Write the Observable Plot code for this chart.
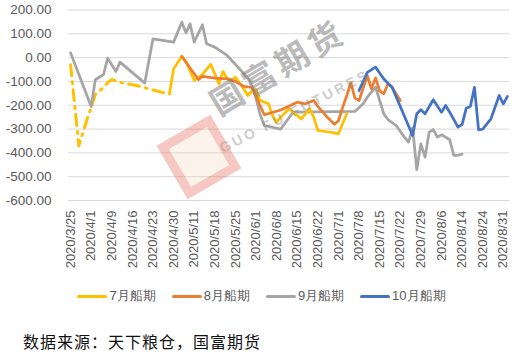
<!DOCTYPE html>
<html><head><meta charset="utf-8">
<script src="https://cdn.jsdelivr.net/npm/d3@7"></script>
<script src="https://cdn.jsdelivr.net/npm/@observablehq/plot@0.6"></script>
<style>
body{margin:0;background:#fff;width:515px;height:352px;overflow:hidden;position:relative;font-family:"Liberation Sans",Arial,sans-serif;}
#chart{height:280px;}
#legend{display:flex;justify-content:center;align-items:center;margin-top:8px;height:16px;font-size:13px;color:#595959;padding-left:8px;}
#legend .item{display:flex;align-items:center;margin:0 8px;}
#legend .sw{width:30px;height:3px;border-radius:2px;margin-right:2px;}
#caption{position:absolute;left:23px;top:331px;font-family:"Noto Sans CJK SC",sans-serif;font-size:16px;letter-spacing:1px;color:#111;line-height:20px;}
.wm{position:absolute;pointer-events:none;white-space:nowrap;}
</style></head><body>
<div id="chart"></div>
<div id="legend"></div>
<div id="caption">数据来源：天下粮仓，国富期货</div>
<div class="wm" style="left:222px;top:82px;font-family:'Noto Sans CJK SC';font-weight:bold;font-size:33px;line-height:40px;letter-spacing:5px;color:rgba(120,120,120,0.5);transform:rotate(-31deg);transform-origin:left bottom;">国富期货</div>
<div class="wm" style="left:224px;top:140px;font-family:'Liberation Sans';font-weight:bold;font-size:14px;line-height:16px;letter-spacing:3px;color:rgba(140,140,140,0.45);transform:rotate(-27deg);transform-origin:left bottom;">GUO FU FUTURES</div>
<div class="wm" style="left:168px;top:126px;width:44px;height:44px;border:9px solid rgba(225,90,90,0.28);background:rgba(240,200,160,0.22);transform:rotate(-30deg);"></div>
<script>
const tickLabels = ["2020/3/25","2020/4/1","2020/4/9","2020/4/16","2020/4/23","2020/4/30","2020/5/11","2020/5/18","2020/5/25","2020/6/1","2020/6/8","2020/6/15","2020/6/22","2020/7/1","2020/7/8","2020/7/15","2020/7/22","2020/7/29","2020/8/6","2020/8/14","2020/8/24","2020/8/31"];
const seriesNames = ["7月船期","8月船期","9月船期","10月船期"];
const seriesColors = ["#FFC000","#ED7D31","#A5A5A5","#4472C4"];

// [trading-day index, value]
const julyEarly = [[0,-30],[1,-200],[2,-370],[3,-315],[4,-260],[5,-210],[6,-155],[7,-140],[8,-125],[9,-105],[10,-92],[12,-104],[13,-107],[16,-117],[20,-136],[22,-145],[24,-152]];
const july = [[24,-152],[25,-47],[27,5],[28,-15],[30,-96],[31,-83],[32,-70],[34,-28],[36,-110],[37,-58],[38,-88],[39,-95],[40,-82],[42,-131],[43,-159],[44,-140],[45,-135],[46,-180],[48,-193],[49,-243],[50,-271],[51,-250],[53,-215],[55,-243],[56,-257],[58,-215],[59,-250],[60,-306],[63,-313],[65,-320],[66,-278],[67,-236]];
const august = [[27,5],[31,-92],[32,-79],[35,-86],[38,-89],[40,-100],[42,-121],[44,-125],[47,-240],[51,-220],[55,-187],[57,-194],[59,-180],[60,-205],[62,-245],[64,-280],[65,-265],[66,-210],[67,-160],[68,-105],[69,-170],[70,-180],[72,-75],[73,-131],[74,-85],[75,-140],[76,-152],[77,-110],[78,-124],[80,-180]];
const september = [[0,20],[5,-205],[6,-93],[8,-71],[9,-2],[11,-58],[12,-19],[18,-107],[20,79],[25,65],[27,149],[28,104],[29,142],[30,65],[32,138],[33,58],[35,44],[38,9],[43,-85],[44,-120],[45,-170],[46,-240],[47,-285],[51,-300],[54,-229],[69,-226],[71,-194],[72,-166],[74,-124],[75,-180],[76,-236],[77,-260],[79,-285],[81,-334],[82,-355],[83,-295],[84,-470],[85,-362],[86,-418],[87,-313],[88,-302],[89,-334],[90,-324],[91,-334],[92,-345],[93,-411],[94,-410],[95,-405]];
const october = [[70,-138],[72,-62],[74,-40],[76,-90],[78,-124],[83,-327],[84,-236],[85,-219],[86,-236],[88,-177],[90,-229],[91,-201],[92,-229],[94,-292],[95,-280],[96,-213],[97,-205],[98,-125],[99,-303],[100,-300],[102,-257],[104,-159],[105,-194],[106,-163]];
const yTicks = [-600,-500,-400,-300,-200,-100,0,100,200];

const rows = (arr, s) => arr.map(([i, v]) => ({i, v, s}));
const solid = {x:"i", y:"v", strokeWidth:2.75, strokeLinejoin:"round", strokeLinecap:"round"};

const chart = Plot.plot({
  width: 515, height: 280,
  marginTop: 9.5, marginBottom: 80, marginLeft: 68, marginRight: 6,
  style: {fontFamily: "Liberation Sans, Arial, sans-serif", fontSize: "13px", color: "#595959", background: "transparent"},
  x: {domain: [-0.5, 106.5]},
  y: {domain: [-600, 200]},
  marks: [
    Plot.gridY(yTicks, {stroke: "#D9D9D9", strokeOpacity: 1, strokeWidth: 1}),
    Plot.axisY(yTicks, {tickSize: 0, tickPadding: 17, tickFormat: d => d.toFixed(2), fontSize: 13.5, label: null}),
    Plot.axisX(d3.range(0, 106, 5), {tickSize: 0, tickRotate: -90, tickPadding: 10, tickFormat: i => tickLabels[i / 5], fontSize: 13, label: null}),
    Plot.line(rows(julyEarly, seriesNames[0]), {x:"i", y:"v", stroke: seriesColors[0], strokeWidth: 3, strokeDasharray: "11,6,2,6"}),
    Plot.line(rows(september, seriesNames[2]), {...solid, stroke: seriesColors[2]}),
    Plot.line(rows(july, seriesNames[0]), {...solid, stroke: seriesColors[0]}),
    Plot.line(rows(august, seriesNames[1]), {...solid, stroke: seriesColors[1]}),
    Plot.line(rows(october, seriesNames[3]), {...solid, stroke: seriesColors[3]})
  ]
});
document.getElementById("chart").append(chart);

const legend = document.getElementById("legend");
seriesNames.forEach((n, k) => {
  const it = document.createElement("div"); it.className = "item";
  const sw = document.createElement("div"); sw.className = "sw"; sw.style.background = seriesColors[k];
  const tx = document.createElement("span"); tx.textContent = n;
  it.append(sw, tx); legend.append(it);
});
</script>
</body></html>
